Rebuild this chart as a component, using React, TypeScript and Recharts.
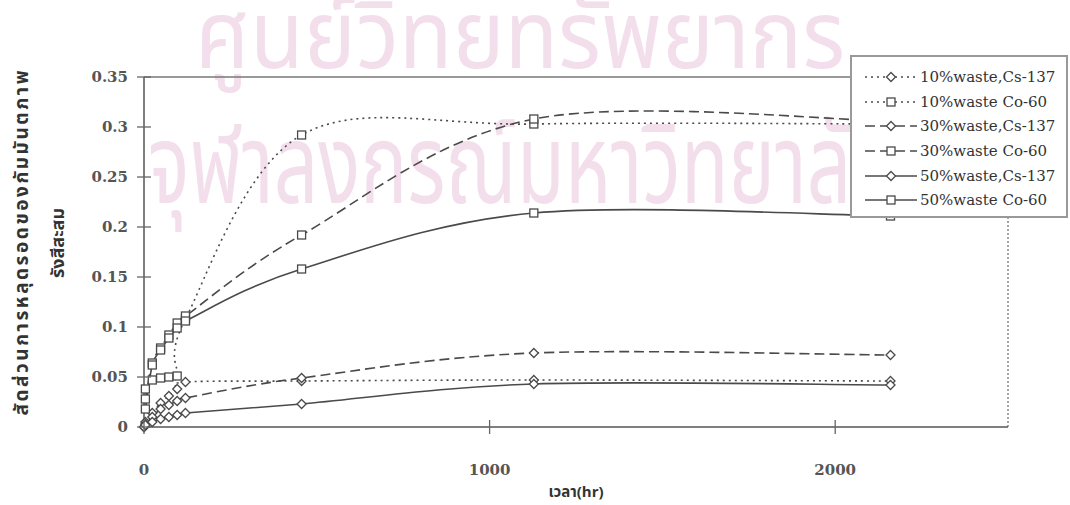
import React from "react";
import { LineChart, Line, XAxis, YAxis, Legend, ReferenceLine } from "recharts";

// sampling times (hr)
const hours = [0, 4, 24, 48, 72, 96, 120, 456, 1128, 2160];

// accumulated release fraction per series
const cs10 = [0, 0.005, 0.014, 0.024, 0.031, 0.038, 0.045, 0.046, 0.047, 0.046];
const co10 = [null, 0.038, 0.047, 0.049, 0.05, 0.051, 0.108, 0.292, 0.303, 0.303];
const cs30 = [0, 0.003, 0.01, 0.018, 0.022, 0.026, 0.029, 0.049, 0.074, 0.072];
const co30 = [null, 0.028, 0.064, 0.079, 0.092, 0.104, 0.111, 0.192, 0.308, 0.306];
const cs50 = [0, 0.002, 0.005, 0.008, 0.01, 0.012, 0.014, 0.023, 0.043, 0.042];
const co50 = [null, 0.018, 0.062, 0.077, 0.089, 0.099, 0.106, 0.158, 0.214, 0.211];

const seriesNames = [
  "10%waste,Cs-137",
  "10%waste Co-60",
  "30%waste,Cs-137",
  "30%waste Co-60",
  "50%waste,Cs-137",
  "50%waste Co-60",
];

const xTicks = [0, 1000, 2000];
const yTicks = [0, 0.05, 0.1, 0.15, 0.2, 0.25, 0.3, 0.35];

const DOTTED = "2 4";
const DASHED = "10 5";

const SERIES = [
  { key: "cs10", values: cs10, dash: DOTTED, shape: "diamond" },
  { key: "co10", values: co10, dash: DOTTED, shape: "square" },
  { key: "cs30", values: cs30, dash: DASHED, shape: "diamond" },
  { key: "co30", values: co30, dash: DASHED, shape: "square" },
  { key: "cs50", values: cs50, dash: undefined, shape: "diamond" },
  { key: "co50", values: co50, dash: undefined, shape: "square" },
].map((s, i) => ({ ...s, name: seriesNames[i] }));

const rows = hours.map((t, i) => {
  const r: Record<string, number | null> = { t };
  SERIES.forEach((s) => (r[s.key] = s.values[i]));
  return r;
});

// excel-like smoothed line (catmull-rom by point index)
const excelSmooth = (context: any) => {
  let pts: number[][] = [];
  return {
    areaStart() {},
    areaEnd() {},
    lineStart() {
      pts = [];
    },
    lineEnd() {
      if (!pts.length) return;
      context.moveTo(pts[0][0], pts[0][1]);
      for (let i = 0; i < pts.length - 1; i++) {
        const p0 = pts[Math.max(i - 1, 0)];
        const p1 = pts[i];
        const p2 = pts[i + 1];
        const p3 = pts[Math.min(i + 2, pts.length - 1)];
        context.bezierCurveTo(
          p1[0] + (p2[0] - p0[0]) / 6,
          p1[1] + (p2[1] - p0[1]) / 6,
          p2[0] - (p3[0] - p1[0]) / 6,
          p2[1] - (p3[1] - p1[1]) / 6,
          p2[0],
          p2[1]
        );
      }
    },
    point(x: number, y: number) {
      pts.push([+x, +y]);
    },
  };
};

const INK = "#4a4a4a";
const SERIF = "'DejaVu Serif', serif";
const THAI = "'Noto Sans Thai', 'Loma', 'Garuda', 'Tlwg Typo', 'Noto Sans', sans-serif";

// legend box placement (px, page coords)
const LEG = { left: 850, top: 55, width: 218, height: 163 };

function Marker({ cx, cy, shape }: any) {
  if (cx == null || cy == null) return <g />;
  if (shape === "square")
    return <rect x={cx - 4} y={cy - 4} width={8} height={8} fill="#fff" stroke={INK} strokeWidth={1.3} />;
  return (
    <path
      d={`M${cx},${cy - 4.5}L${cx + 4.5},${cy}L${cx},${cy + 4.5}L${cx - 4.5},${cy}Z`}
      fill="#fff"
      stroke={INK}
      strokeWidth={1.3}
    />
  );
}

const YTick = ({ x, y, payload }: any) => (
  <g>
    <line x1={x - 7} x2={x + 7} y1={y} y2={y} stroke="#666" strokeWidth={1.3} />
    <text x={x - 16} y={y + 5} textAnchor="end" fontFamily={SERIF} fontWeight="bold" fontSize={15} fill="#555">
      {payload.value}
    </text>
  </g>
);

const XTick = ({ x, y, payload }: any) => (
  <g>
    <line x1={x} x2={x} y1={y - 7} y2={y + 7} stroke="#666" strokeWidth={1.3} />
    <text x={x} y={y + 48} textAnchor="middle" fontFamily={SERIF} fontWeight="bold" fontSize={15} fill="#555">
      {payload.value}
    </text>
  </g>
);

const YTitle = () => (
  <g fontFamily={THAI} fontWeight="bold" fill="#333" textAnchor="middle">
    <text
      x={28}
      y={243}
      fontSize={19}
      textLength={345}
      lengthAdjust="spacing"
      transform="rotate(-90 28 243)"
    >
      สัดส่วนการหลุดรอดของกัมมันตภาพ
    </text>
    <text x={64} y={243} fontSize={18} transform="rotate(-90 64 243)">
      รังสีสะสม
    </text>
  </g>
);

const XTitle = () => (
  <text x={576} y={497} textAnchor="middle" fontFamily={THAI} fontWeight="bold" fontSize={15} fill="#333">
    เวลา(hr)
  </text>
);

const LegendBox = () => (
  <div
    style={{
      background: "#fff",
      border: "2px solid #999",
      boxSizing: "border-box",
      width: LEG.width,
      height: LEG.height,
      padding: "8px 0 0 13px",
      fontFamily: SERIF,
      fontSize: 15,
      color: "#333",
    }}
  >
    {SERIES.map((s) => (
      <div key={s.key} style={{ display: "flex", alignItems: "center", height: 24.6 }}>
        <svg width={52} height={12}>
          <line x1={0} x2={52} y1={6} y2={6} stroke={INK} strokeWidth={1.6} strokeDasharray={s.dash} />
          <Marker cx={26} cy={6} shape={s.shape} />
        </svg>
        <span style={{ marginLeft: 3, whiteSpace: "nowrap" }}>{s.name}</span>
      </div>
    ))}
  </div>
);

const legHole =
  `M0,0H1070V505H0Z M${LEG.left},${LEG.top}h${LEG.width}v${LEG.height}h${-LEG.width}Z`;

export default function App() {
  return (
    <div style={{ position: "absolute", left: 0, top: 0, width: 1070, height: 505, background: "#fff" }}>
      {/* faint library watermark from the scanned page, kept out of the legend box */}
      <svg width={1070} height={505} style={{ position: "absolute", left: 0, top: 0, zIndex: 0 }}>
        <defs>
          <clipPath id="wm-clip">
            <path d={legHole} clipRule="evenodd" />
          </clipPath>
        </defs>
        <g fill="#f3dfeb" fontFamily={THAI} clipPath="url(#wm-clip)">
          <text x={195} y={68} fontSize={95} textLength={650} lengthAdjust="spacingAndGlyphs">
            ศูนย์วิทยทรัพยากร
          </text>
          <text x={148} y={203} fontSize={110} textLength={750} lengthAdjust="spacingAndGlyphs">
            จุฬาลงกรณ์มหาวิทยาลัย
          </text>
        </g>
      </svg>
      <div style={{ position: "absolute", left: 0, top: 0, zIndex: 1 }}>
        <LineChart width={1070} height={505} data={rows} margin={{ top: 77, right: 62, bottom: 0, left: 0 }}>
          <ReferenceLine y={0.35} stroke="#777" strokeWidth={1.3} />
          <ReferenceLine x={2500} stroke="#777" strokeWidth={1.3} strokeDasharray="2 2" />
          <XAxis
            dataKey="t"
            type="number"
            domain={[0, 2500]}
            ticks={xTicks}
            height={78}
            tickSize={0}
            tickMargin={0}
            tickLine={false}
            axisLine={{ stroke: "#555", strokeWidth: 1.5 }}
            tick={<XTick />}
            label={<XTitle />}
          />
          <YAxis
            type="number"
            domain={[0, 0.35]}
            ticks={yTicks}
            width={144}
            tickSize={0}
            tickMargin={0}
            tickLine={false}
            axisLine={{ stroke: "#555", strokeWidth: 1.5 }}
            tick={<YTick />}
            label={<YTitle />}
          />
          <Legend
            layout="vertical"
            align="center"
            verticalAlign="middle"
            content={<LegendBox />}
            wrapperStyle={{ ...LEG, background: "#fff", zIndex: 5 }}
          />
          {SERIES.map((s) => (
            <Line
              key={s.key}
              dataKey={s.key}
              name={s.name}
              type={excelSmooth as any}
              stroke={INK}
              strokeWidth={1.6}
              strokeDasharray={s.dash}
              dot={(p: any) => <Marker key={`${s.key}-${p.index}`} cx={p.cx} cy={p.cy} shape={s.shape} />}
              activeDot={false}
              isAnimationActive={false}
            />
          ))}
        </LineChart>
      </div>
    </div>
  );
}
